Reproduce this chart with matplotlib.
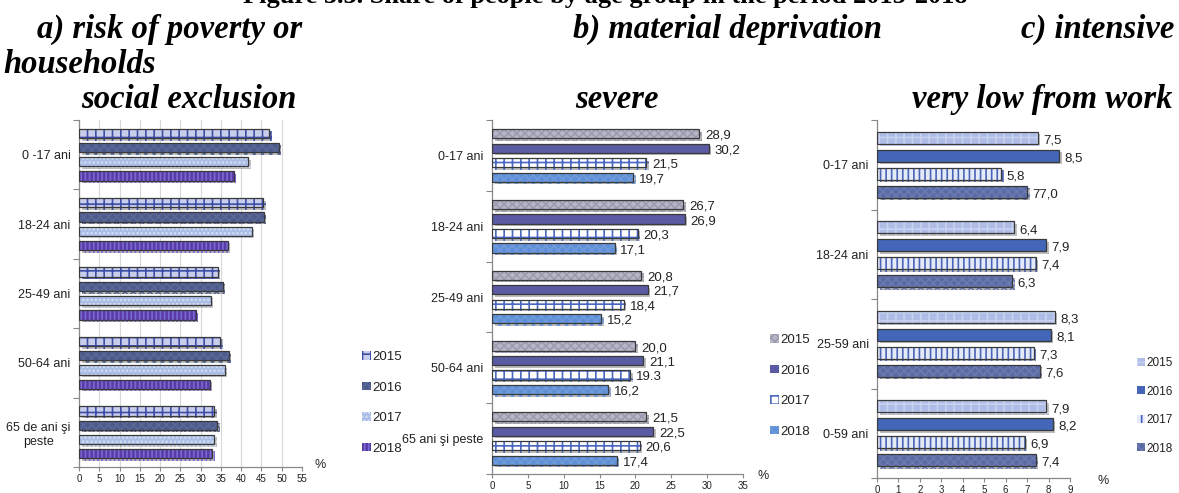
import matplotlib
matplotlib.use("Agg")
import matplotlib.pyplot as plt
import matplotlib.patheffects as pe
from matplotlib.patches import Patch
from matplotlib.font_manager import fontManager
import numpy as np

# ---------------- data ----------------
years = ["2015", "2016", "2017", "2018"]

a_groups = ["0 -17 ani", "18-24 ani", "25-49 ani", "50-64 ani", "65 de ani şi\npeste"]
a_2015 = [46.9, 45.4, 34.2, 34.8, 33.3]
a_2016 = [49.3, 45.6, 35.5, 36.9, 34.1]
a_2017 = [41.7, 42.6, 32.5, 35.9, 33.3]
a_2018 = [38.2, 36.7, 28.8, 32.3, 32.9]
a_ticks = [0, 5, 10, 15, 20, 25, 30, 35, 40, 45, 50, 55]

b_groups = ["0-17 ani", "18-24 ani", "25-49 ani", "50-64 ani", "65 ani şi peste"]
b_2015 = [28.9, 26.7, 20.8, 20.0, 21.5]
b_2016 = [30.2, 26.9, 21.7, 21.1, 22.5]
b_2017 = [21.5, 20.3, 18.4, 19.3, 20.6]
b_2018 = [19.7, 17.1, 15.2, 16.2, 17.4]
b_lab_2015 = ["28,9", "26,7", "20,8", "20,0", "21,5"]
b_lab_2016 = ["30,2", "26,9", "21,7", "21,1", "22,5"]
b_lab_2017 = ["21,5", "20,3", "18,4", "19.3", "20,6"]
b_lab_2018 = ["19,7", "17,1", "15,2", "16,2", "17,4"]
b_ticks = [0, 5, 10, 15, 20, 25, 30, 35]

c_groups = ["0-17 ani", "18-24 ani", "25-59 ani", "0-59 ani"]
c_2015 = [7.5, 6.4, 8.3, 7.9]
c_2016 = [8.5, 7.9, 8.1, 8.2]
c_2017 = [5.8, 7.4, 7.3, 6.9]
c_2018 = [7.0, 6.3, 7.6, 7.4]
c_lab_2015 = ["7,5", "6,4", "8,3", "7,9"]
c_lab_2016 = ["8,5", "7,9", "8,1", "8,2"]
c_lab_2017 = ["5,8", "7,4", "7,3", "6,9"]
c_lab_2018 = ["77,0", "6,3", "7,6", "7,4"]
c_ticks = [0, 1, 2, 3, 4, 5, 6, 7, 8, 9]

# ---------------- fonts ----------------
names = {f.name for f in fontManager.ttflist}
narrow = "Liberation Sans Narrow" if "Liberation Sans Narrow" in names else "Liberation Sans"
SANS = [narrow, "DejaVu Sans"]
SERIF = ["Liberation Serif", "DejaVu Serif"]
plt.rcParams["font.family"] = SANS
plt.rcParams["hatch.linewidth"] = 1.2

W, H = 1179, 493
fig = plt.figure(figsize=(W / 100, H / 100), dpi=100)


def ax_rect(l, r, t, b):
    return [l / W, (H - b) / H, (r - l) / W, (b - t) / H]


TXT = "#222222"
shadow = [pe.SimplePatchShadow(offset=(1.8, -1.8), shadow_rgbFace="#888888", alpha=0.55), pe.Normal()]


def draw_panel(ax, groups, series, styles, xmax, ticks, slot, thick, labels=None,
               grid=False, lab_dx=0.0, lab_fs=9):
    n = len(groups)
    y = np.arange(n)
    offs = [-1.5 * slot, -0.5 * slot, 0.5 * slot, 1.5 * slot]
    for j, (vals, st) in enumerate(zip(series, styles)):
        bars = ax.barh(y + offs[j], vals, height=thick, color=st["fc"],
                       hatch=st.get("hatch"), edgecolor=st.get("hc", st["fc"]),
                       linewidth=0, zorder=3)
        ax.barh(y + offs[j], vals, height=thick, fill=False,
                edgecolor="#3a3a3a", linewidth=0.9, zorder=4)
        for b in bars:
            b.set_path_effects(shadow)
        if labels is not None:
            for yy, v, s in zip(y + offs[j], vals, labels[j]):
                ax.text(v + lab_dx, yy + 0.03, s, va="center", ha="left",
                        fontsize=lab_fs, color=TXT, zorder=5)
    ax.set_xlim(0, xmax)
    ax.set_ylim(n - 0.5, -0.5)
    ax.set_xticks(ticks)
    ax.set_xticklabels([str(t) for t in ticks], fontsize=7, color=TXT)
    ax.set_yticks(np.arange(n + 1) - 0.5)
    ax.set_yticklabels([])
    ax.set_yticks(y, minor=True)
    ax.set_yticklabels(groups, minor=True, fontsize=9, color=TXT, multialignment="center")
    ax.tick_params(axis="y", which="minor", length=0, pad=6)
    ax.tick_params(axis="y", which="major", length=4, color="#888888")
    ax.tick_params(axis="x", length=3, color="#888888", pad=2)
    for s in ["top", "right"]:
        ax.spines[s].set_visible(False)
    for s in ["left", "bottom"]:
        ax.spines[s].set_color("#888888")
        ax.spines[s].set_linewidth(0.9)
    if grid:
        ax.grid(axis="x", color="#d8d8d8", linewidth=0.8, zorder=0)
    ax.set_axisbelow(True)


def add_legend(ax, styles, x_px, y_px, fs=9.5):
    handles = [Patch(facecolor=st["fc"], hatch=st.get("hatch"),
                     edgecolor=st.get("hc", st["fc"]), linewidth=0) for st in styles]
    ax.legend(handles, years, loc="upper left",
              bbox_to_anchor=(x_px / W, 1 - y_px / H), bbox_transform=fig.transFigure,
              frameon=False, borderaxespad=0, borderpad=0,
              fontsize=fs, handlelength=0.65, handleheight=0.65, handletextpad=0.15,
              labelspacing=1.4, labelcolor=TXT)


# ---------- panel a ----------
ax_a = fig.add_axes(ax_rect(79, 302, 120, 467))
sty_a = [
    dict(fc="#c9cdec", hatch="++", hc="#3f4fa8"),
    dict(fc="#4d5b8c", hatch="xxxx", hc="#5a6898"),
    dict(fc="#a9bde6", hatch="....", hc="#d6e0f5"),
    dict(fc="#5a3aa8", hatch="||||", hc="#7a6ad0"),
]
draw_panel(ax_a, a_groups, [a_2015, a_2016, a_2017, a_2018], sty_a, 55, a_ticks,
           0.205, 0.135, grid=True)
add_legend(ax_a, sty_a, 362, 351)
fig.text(320 / W, 1 - 465 / H, "%", fontsize=9, color=TXT, ha="center", va="center")

# ---------- panel b ----------
ax_b = fig.add_axes(ax_rect(492, 743, 120, 474))
sty_b = [
    dict(fc="#b6b6c6", hatch="xxxx", hc="#9c9cb0"),
    dict(fc="#5b5ba3", hatch=None),
    dict(fc="#ffffff", hatch="++", hc="#4a68c0"),
    dict(fc="#5f8fd6", hatch="xxxx", hc="#6f9bdc"),
]
draw_panel(ax_b, b_groups, [b_2015, b_2016, b_2017, b_2018], sty_b, 35, b_ticks,
           0.205, 0.13, labels=[b_lab_2015, b_lab_2016, b_lab_2017, b_lab_2018],
           lab_dx=0.8, lab_fs=9.5)
add_legend(ax_b, sty_b, 770, 334)
fig.text(763 / W, 1 - 476 / H, "%", fontsize=9, color=TXT, ha="center", va="center")

# ---------- panel c ----------
ax_c = fig.add_axes(ax_rect(877, 1070, 120, 478))
sty_c = [
    dict(fc="#aebce6", hatch="++", hc="#c8d2f0"),
    dict(fc="#4466b8", hatch=None),
    dict(fc="#e4eaf8", hatch="|||", hc="#4a64b8"),
    dict(fc="#5a6aa4", hatch="xxxx", hc="#6a7ab0"),
]
draw_panel(ax_c, c_groups, [c_2015, c_2016, c_2017, c_2018], sty_c, 9, c_ticks,
           0.2, 0.135, labels=[c_lab_2015, c_lab_2016, c_lab_2017, c_lab_2018],
           lab_dx=0.25, lab_fs=9.5)
add_legend(ax_c, sty_c, 1137, 357, fs=8.5)
fig.text(1103 / W, 1 - 481 / H, "%", fontsize=9, color=TXT, ha="center", va="center")

# ---------- titles ----------
tkw = dict(family=SERIF, fontweight="bold", color="black")
fig.text(605 / W, 1 - 3 / H, "Figure 3.3. Share of people by age group in the period 2015-2018",
         ha="center", va="baseline", fontsize=19, **tkw)
itkw = dict(tkw, fontstyle="italic", fontsize=23.5, va="baseline")
fig.text(37 / W, 1 - 38 / H, "a) risk of poverty or", ha="left", **itkw)
fig.text(573 / W, 1 - 38 / H, "b) material deprivation", ha="left", **itkw)
fig.text(1174 / W, 1 - 38 / H, "c) intensive", ha="right", **itkw)
fig.text(3 / W, 1 - 73 / H, "households", ha="left", **itkw)
fig.text(81 / W, 1 - 108 / H, "social exclusion", ha="left", **itkw)
fig.text(575 / W, 1 - 108 / H, "severe", ha="left", **itkw)
fig.text(1172 / W, 1 - 108 / H, "very low from work", ha="right", **itkw)

fig.savefig("out.png", dpi=100)
